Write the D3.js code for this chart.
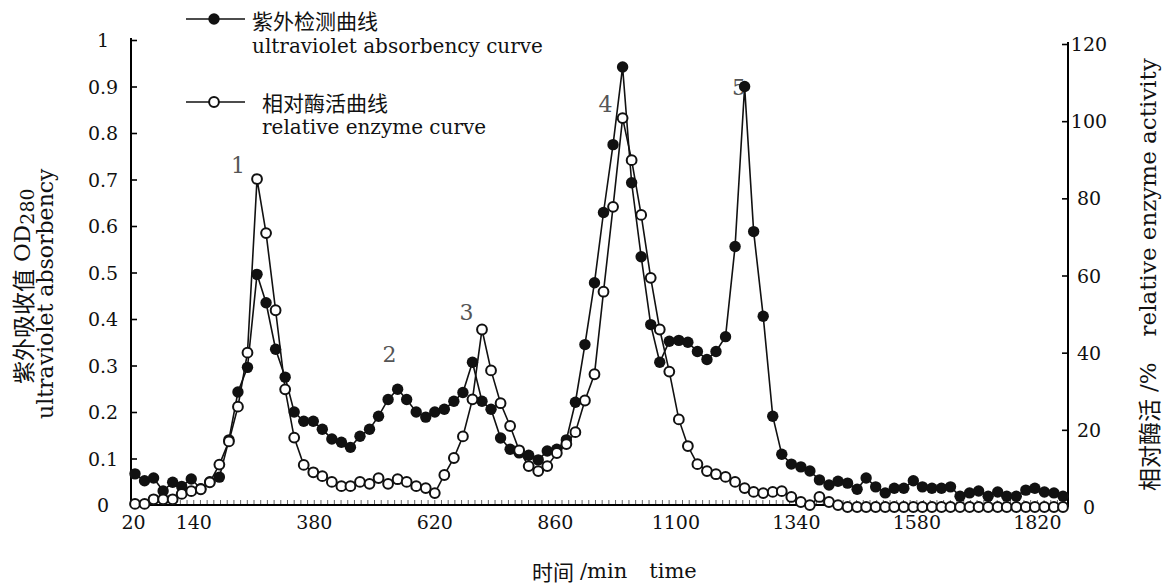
<!DOCTYPE html>
<html><head><meta charset="utf-8">
<script src="https://cdn.jsdelivr.net/npm/d3@7/dist/d3.min.js"></script>
<style>body{margin:0;background:#fff}svg{display:block}</style>
</head><body>
<svg id="chart" width="1164" height="586"></svg>
<script>
// sampling times (min)
const times=[24,43,61,80,99,117,136,155,173,192,211,229,248,267,285,304,323,341,360,379,397,416,435,453,472,491,509,528,547,565,584,603,621,640,659,677,696,715,733,752,771,789,808,827,845,864,883,901,920,939,957,976,995,1013,1032,1051,1069,1088,1107,1125,1144,1163,1181,1200,1219,1238,1256,1275,1294,1312,1331,1350,1368,1387,1406,1424,1443,1462,1480,1499,1518,1536,1555,1574,1592,1611,1630,1648,1667,1686,1704,1723,1742,1760,1779,1798,1816,1835,1854,1872];
// ultraviolet absorbency OD280 (left axis)
const uvValues=[0.067,0.052,0.058,0.03,0.049,0.04,0.056,0.035,0.05,0.06,0.14,0.243,0.296,0.496,0.435,0.335,0.275,0.2,0.18,0.18,0.163,0.142,0.135,0.124,0.148,0.163,0.191,0.227,0.249,0.227,0.2,0.189,0.2,0.206,0.223,0.242,0.307,0.223,0.206,0.144,0.12,0.112,0.107,0.097,0.116,0.12,0.14,0.221,0.345,0.478,0.629,0.775,0.942,0.693,0.534,0.388,0.307,0.352,0.354,0.35,0.33,0.313,0.33,0.362,0.556,0.9,0.588,0.406,0.191,0.109,0.088,0.082,0.073,0.054,0.043,0.051,0.047,0.034,0.058,0.039,0.026,0.036,0.036,0.052,0.039,0.036,0.036,0.039,0.019,0.026,0.03,0.019,0.028,0.019,0.019,0.032,0.036,0.028,0.026,0.019];
// relative enzyme activity % (right axis)
const enzymeValues=[0.8,0.8,2,2,2,3.4,4.1,4.6,6.4,11,17,26,40,85,71,51,30.5,18,10.9,9,8,6.5,5.4,5.4,6.5,6,7.5,6,7.2,6.5,5.4,4.9,3.6,8.3,12.7,18.3,27.9,46,35.4,26.9,21,14.7,10.6,9.3,10.6,14,16.3,19.4,27.6,34.4,55.8,77.8,100.8,89.9,75.7,59.4,46,35.1,22.7,15.8,11.1,9.3,8.5,7.8,6.5,4.9,3.9,3.6,3.9,4.1,2.6,1.3,0.5,2.6,1.3,0.5,0,0,0,0,0,0,0,0,0,0,0,0,0,0,0,0,0,0,0,0,0,0,0,0];

const leftTicks=[0,0.1,0.2,0.3,0.4,0.5,0.6,0.7,0.8,0.9,1];
const leftTickLabels=["0","0.1","0.2","0.3","0.4","0.5","0.6","0.7","0.8","0.9","1"];
const rightTicks=[0,20,40,60,80,100,120];
const xTickLabels=[20,140,380,620,860,1100,1340,1580,1820];
const peakNames=["1","2","3","4","5"];
const peakTimes=[229,531,684,961,1227];
const peakOD=[0.731,0.323,0.413,0.862,0.897];

const serif='"DejaVu Serif","Noto Sans CJK SC",serif';
const cjk='"Noto Sans CJK SC",sans-serif';
const svg=d3.select("#chart");
svg.append("rect").attr("width",1164).attr("height",586).attr("fill","#fff");

const x=d3.scaleLinear().domain([20,1882]).range([133,1068]);
const yL=d3.scaleLinear().domain([0,1]).range([505,40]);
const yR=d3.scaleLinear().domain([0,120]).range([507,44]);

// minor x ticks
const minor=d3.range(20,1882,240/18);
const xAxis=d3.axisBottom(x).tickValues(minor).tickSize(-5).tickFormat("");
const gx=svg.append("g").attr("transform","translate(0,505)").call(xAxis);
gx.select(".domain").remove();
gx.selectAll(".tick line").attr("stroke","#666").attr("stroke-width",1);
svg.append("line").attr("x1",131).attr("x2",1068).attr("y1",505).attr("y2",505).attr("stroke","#000").attr("stroke-width",2);

// x labels
const gxl=svg.append("g").attr("transform","translate(0,505)")
  .call(d3.axisBottom(x).tickValues(xTickLabels).tickSize(0).tickPadding(11).tickFormat(d=>d));
gxl.select(".domain").remove();
gxl.selectAll("text").attr("font-family",serif).attr("font-size",19).attr("fill","#111");

// left axis
const gl=svg.append("g").attr("transform","translate(131,0)")
  .call(d3.axisRight(yL).tickValues(leftTicks).tickSize(6).tickFormat(""));
gl.select(".domain").attr("stroke-width",2).attr("d","M0,38V505");
gl.selectAll(".tick line").attr("stroke-width",1.6);
svg.append("g").selectAll("text").data(leftTicks).join("text")
  .attr("x",103).attr("y",d=>yL(d)).attr("text-anchor","middle").attr("dominant-baseline","central")
  .attr("font-family",serif).attr("font-size",19).attr("fill","#111")
  .text((d,i)=>leftTickLabels[i]);

// right axis
const gr=svg.append("g").attr("transform","translate(1068,0)")
  .call(d3.axisLeft(yR).tickValues(rightTicks).tickSize(6).tickFormat(""));
gr.select(".domain").attr("stroke-width",2).attr("d","M0,42V507");
gr.selectAll(".tick line").attr("stroke-width",1.6);
svg.append("g").selectAll("text").data(rightTicks).join("text")
  .attr("x",1089).attr("y",d=>yR(d)).attr("text-anchor","middle").attr("dominant-baseline","central")
  .attr("font-family",serif).attr("font-size",19).attr("fill","#111")
  .text(d=>d);

// peak labels (drawn under the markers)
svg.append("g").selectAll("text").data(peakNames).join("text")
  .attr("x",(d,i)=>x(peakTimes[i])).attr("y",(d,i)=>yL(peakOD[i]))
  .attr("text-anchor","middle").attr("dominant-baseline","central")
  .attr("font-family",serif).attr("font-size",22).attr("fill","#555").text(d=>d);

// series
const uvData=times.map((t,i)=>({t,v:uvValues[i]}));
const enData=times.map((t,i)=>({t,v:enzymeValues[i]}));
svg.append("path").datum(uvData).attr("fill","none").attr("stroke","#111").attr("stroke-width",1.6)
  .attr("d",d3.line().x(d=>x(d.t)).y(d=>yL(d.v)));
svg.append("g").selectAll("circle").data(uvData).join("circle")
  .attr("cx",d=>x(d.t)).attr("cy",d=>yL(d.v)).attr("r",5.7).attr("fill","#111");
svg.append("path").datum(enData).attr("fill","none").attr("stroke","#111").attr("stroke-width",1.6)
  .attr("d",d3.line().x(d=>x(d.t)).y(d=>yR(d.v)));
svg.append("g").selectAll("circle").data(enData).join("circle")
  .attr("cx",d=>x(d.t)).attr("cy",d=>yR(d.v)).attr("r",4.9).attr("fill","#fff")
  .attr("stroke","#111").attr("stroke-width",2);

// legend
const lg=svg.append("g");
[[19,true],[102,false]].forEach(([ly,filled])=>{
  lg.append("line").attr("x1",186).attr("x2",245).attr("y1",ly).attr("y2",ly).attr("stroke","#111").attr("stroke-width",1.6);
  lg.append("circle").attr("cx",214).attr("cy",ly).attr("r",filled?5.7:4.9)
    .attr("fill",filled?"#111":"#fff").attr("stroke","#111").attr("stroke-width",filled?0:2);
});
const legText=(tx,ty,s,size,fam)=>lg.append("text").attr("x",tx).attr("y",ty).attr("dominant-baseline","central")
  .attr("font-family",fam).attr("font-size",size).attr("fill","#111").text(s);
legText(252,20,"紫外检测曲线",21,cjk);
legText(252,46,"ultraviolet absorbency curve",20,serif);
legText(262,102,"相对酶活曲线",21,cjk);
legText(262,127,"relative enzyme curve",20,serif);

// axis titles
const xt=svg.append("text").attr("x",532).attr("y",571).attr("dominant-baseline","central")
  .attr("font-family",serif).attr("font-size",21).attr("fill","#111");
xt.append("tspan").attr("font-family",cjk).text("时间");
xt.append("tspan").attr("dx",6).text("/min");
xt.append("tspan").attr("dx",22).text("time");

const lt1=svg.append("text").attr("transform","translate(22,384) rotate(-90)").attr("dominant-baseline","central")
  .attr("font-family",serif).attr("font-size",23).attr("fill","#111");
lt1.append("tspan").attr("font-family",cjk).text("紫外吸收值");
lt1.append("tspan").attr("dx",7).text("OD");
lt1.append("tspan").attr("font-size",19).attr("dy",5).text("280");
svg.append("text").attr("transform","translate(45,419) rotate(-90)").attr("dominant-baseline","central")
  .attr("font-family",serif).attr("font-size",22).attr("fill","#111").text("ultraviolet absorbency");

const rt=svg.append("text").attr("transform","translate(1148,491) rotate(-90)").attr("dominant-baseline","central")
  .attr("font-family",serif).attr("font-size",23).attr("fill","#111");
rt.append("tspan").attr("font-family",cjk).text("相对酶活");
rt.append("tspan").attr("dx",7).text("/%");
rt.append("tspan").attr("dx",26).text("relative enzyme activity");
</script>
</body></html>
